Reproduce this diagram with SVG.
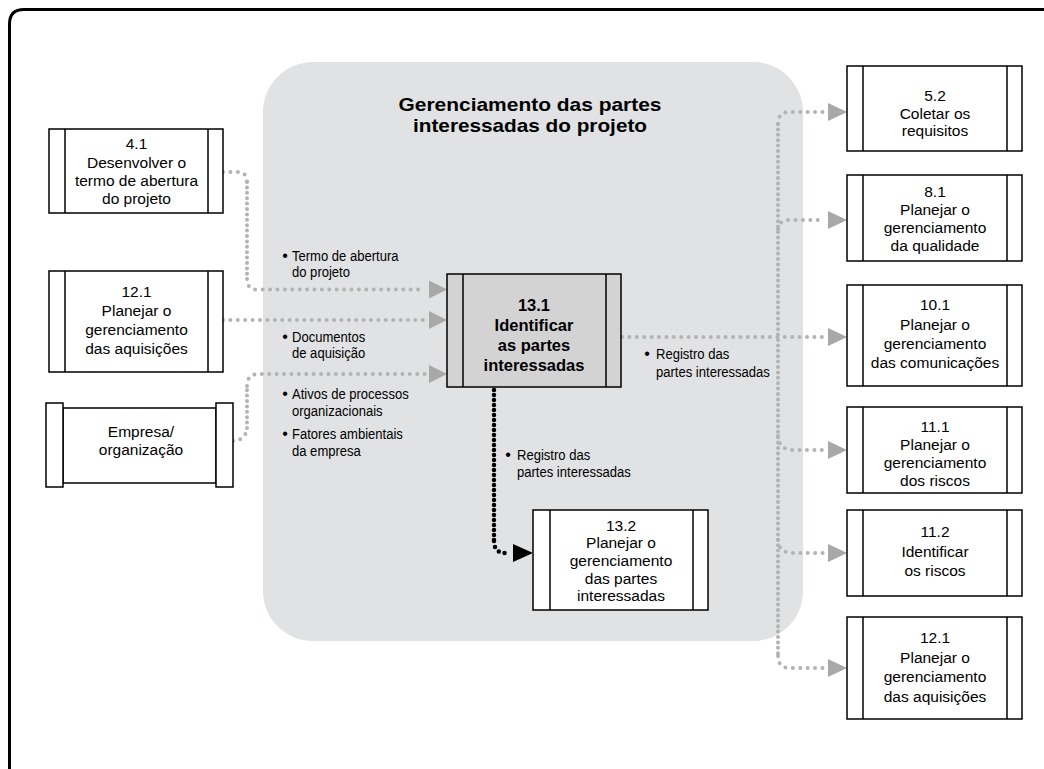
<svg xmlns="http://www.w3.org/2000/svg" width="1044" height="769" viewBox="0 0 1044 769">
<style>
.box{fill:#fff;stroke:#000;stroke-width:1.5}
.bar{stroke:#000;stroke-width:1.5}
.t{font-family:"Liberation Sans",Arial,sans-serif;font-size:15.5px;fill:#000;text-anchor:middle}
.tb{font-family:"Liberation Sans",Arial,sans-serif;font-size:16.5px;font-weight:bold;fill:#000;text-anchor:middle}
.title{font-family:"Liberation Sans",Arial,sans-serif;font-size:19px;font-weight:bold;fill:#000;text-anchor:middle}
.lbl{font-family:"Liberation Sans",Arial,sans-serif;font-size:14.5px;fill:#000}
.bul{font-family:"Liberation Sans",Arial,sans-serif;font-size:16px;fill:#000;text-anchor:middle}
.dh{fill:none;stroke:#b3b3b3;stroke-width:4;stroke-linecap:round;stroke-dasharray:0 7.4}
.dv{fill:none;stroke:#b3b3b3;stroke-width:4;stroke-linecap:round;stroke-dasharray:0 5.4}
.kh{fill:none;stroke:#000;stroke-width:4.5;stroke-linecap:round;stroke-dasharray:0 6}
.kv{fill:none;stroke:#000;stroke-width:4.5;stroke-linecap:round;stroke-dasharray:0 5}
.ga{fill:#a8a8a8}
</style>
<rect width="1044" height="769" fill="#fff"/>
<g id="frame">
<path d="M9.5,769 V24 Q9.5,9.5 24,9.5 H1044" fill="none" stroke="#000" stroke-width="3"/>
</g>
<g id="group-area">
<rect x="263" y="62" width="540" height="579" rx="50" ry="50" fill="#e1e2e3"/>
<text class="title" x="530" y="111" textLength="263" lengthAdjust="spacingAndGlyphs">Gerenciamento das partes</text>
<text class="title" x="530" y="132" textLength="234" lengthAdjust="spacingAndGlyphs">interessadas do projeto</text>
</g>
<g id="connectors">
<path class="dh" d="M223,172 H237 Q247,172 247,182"/>
<path class="dv" d="M247,182 V279"/>
<path class="dh" d="M247,279 Q247,289.5 257,289.5 H425"/>
<polygon class="ga" points="429,280.5 447,289.5 429,298.5"/>
<path class="dh" d="M223,320 H425"/>
<polygon class="ga" points="429,311 447,320 429,329"/>
<path class="dh" d="M233,441 Q246,440 247,428"/>
<path class="dv" d="M247,428 V386"/>
<path class="dh" d="M247,386 Q247,374 259,374 H425"/>
<polygon class="ga" points="429,365 447,374 429,383"/>
<path class="dh" d="M622,337 H825"/>
<path class="dv" d="M778,124 V656"/>
<path class="dh" d="M778,124 Q778,112 790,112 H825"/>
<path class="dh" d="M778,229 Q779,220 790,220 H825"/>
<path class="dh" d="M778,436 Q779,450 793,450 H825"/>
<path class="dh" d="M778,540 Q779,553 793,553 H825"/>
<path class="dh" d="M778,656 Q778,668 790,668 H825"/>
<polygon class="ga" points="828,103 847,112 828,121"/>
<polygon class="ga" points="828,211 847,220 828,229"/>
<polygon class="ga" points="828,328 847,337 828,346"/>
<polygon class="ga" points="828,441 847,450 828,459"/>
<polygon class="ga" points="828,544 847,553 828,562"/>
<polygon class="ga" points="828,659 847,668 828,677"/>
<path class="kv" d="M494,390 V541"/>
<path class="kh" d="M494,541 Q494,553 506,553 H510"/>
<polygon fill="#000" points="513,544 533,553 513,562"/>
</g>
<g id="labels">
<text class="bul" x="285" y="261">•</text>
<text class="lbl" transform="translate(292,261) scale(0.9,1)">Termo de abertura<tspan x="0" dy="16">do projeto</tspan></text>
<text class="bul" x="285" y="342">•</text>
<text class="lbl" transform="translate(292,342) scale(0.9,1)">Documentos<tspan x="0" dy="16.5">de aquisição</tspan></text>
<text class="bul" x="285" y="399">•</text>
<text class="lbl" transform="translate(292,399) scale(0.9,1)">Ativos de processos<tspan x="0" dy="17">organizacionais</tspan></text>
<text class="bul" x="285" y="439">•</text>
<text class="lbl" transform="translate(292,439) scale(0.9,1)">Fatores ambientais<tspan x="0" dy="17">da empresa</tspan></text>
<text class="bul" x="647" y="359">•</text>
<text class="lbl" transform="translate(656,359) scale(0.9,1)">Registro das<tspan x="0" dy="18">partes interessadas</tspan></text>
<text class="bul" x="508" y="460">•</text>
<text class="lbl" transform="translate(517,460) scale(0.9,1)">Registro das<tspan x="0" dy="17">partes interessadas</tspan></text>
</g>
<g id="node-4-1">
<rect class="box" x="49" y="129" width="174" height="84"/>
<line class="bar" x1="65" y1="129" x2="65" y2="213"/>
<line class="bar" x1="208" y1="129" x2="208" y2="213"/>
<text class="t" x="136.5" y="149">4.1</text>
<text class="t" x="136.5" y="167.5">Desenvolver o</text>
<text class="t" x="136.5" y="186">termo de abertura</text>
<text class="t" x="136.5" y="204">do projeto</text>
</g>
<g id="node-12-1-left">
<rect class="box" x="49" y="271" width="174" height="101"/>
<line class="bar" x1="65" y1="271" x2="65" y2="372"/>
<line class="bar" x1="208" y1="271" x2="208" y2="372"/>
<text class="t" x="136.5" y="297">12.1</text>
<text class="t" x="136.5" y="316">Planejar o</text>
<text class="t" x="136.5" y="335">gerenciamento</text>
<text class="t" x="136.5" y="354">das aquisições</text>
</g>
<g id="node-empresa">
<rect class="box" x="63" y="408" width="153" height="75"/>
<rect class="box" x="46" y="403" width="17" height="84"/>
<rect class="box" x="216" y="403" width="17" height="84"/>
<text class="t" x="141" y="437">Empresa/</text>
<text class="t" x="141" y="455">organização</text>
</g>
<g id="node-13-1">
<rect x="447" y="274" width="174" height="113" fill="#d3d3d3" stroke="#000" stroke-width="1.5"/>
<line class="bar" x1="463" y1="274" x2="463" y2="387"/>
<line class="bar" x1="606" y1="274" x2="606" y2="387"/>
<text class="tb" x="534" y="311">13.1</text>
<text class="tb" x="534" y="331">Identificar</text>
<text class="tb" x="534" y="351">as partes</text>
<text class="tb" x="534" y="371">interessadas</text>
</g>
<g id="node-13-2">
<rect class="box" x="533" y="510" width="175" height="100"/>
<line class="bar" x1="550" y1="510" x2="550" y2="610"/>
<line class="bar" x1="693" y1="510" x2="693" y2="610"/>
<text class="t" x="621" y="530.5">13.2</text>
<text class="t" x="621" y="548">Planejar o</text>
<text class="t" x="621" y="566">gerenciamento</text>
<text class="t" x="621" y="583.5">das partes</text>
<text class="t" x="621" y="601">interessadas</text>
</g>
<g id="node-5-2">
<rect class="box" x="847" y="66" width="175" height="85"/>
<line class="bar" x1="863" y1="66" x2="863" y2="151"/>
<line class="bar" x1="1007" y1="66" x2="1007" y2="151"/>
<text class="t" x="935" y="101">5.2</text>
<text class="t" x="935" y="118.5">Coletar os</text>
<text class="t" x="935" y="135.5">requisitos</text>
</g>
<g id="node-8-1">
<rect class="box" x="847" y="175" width="175" height="86"/>
<line class="bar" x1="863" y1="175" x2="863" y2="261"/>
<line class="bar" x1="1007" y1="175" x2="1007" y2="261"/>
<text class="t" x="935" y="197">8.1</text>
<text class="t" x="935" y="215">Planejar o</text>
<text class="t" x="935" y="233">gerenciamento</text>
<text class="t" x="935" y="251">da qualidade</text>
</g>
<g id="node-10-1">
<rect class="box" x="847" y="285" width="175" height="101"/>
<line class="bar" x1="863" y1="285" x2="863" y2="386"/>
<line class="bar" x1="1007" y1="285" x2="1007" y2="386"/>
<text class="t" x="935" y="310">10.1</text>
<text class="t" x="935" y="329.5">Planejar o</text>
<text class="t" x="935" y="349">gerenciamento</text>
<text class="t" x="935" y="368">das comunicações</text>
</g>
<g id="node-11-1">
<rect class="box" x="847" y="407" width="175" height="86"/>
<line class="bar" x1="863" y1="407" x2="863" y2="493"/>
<line class="bar" x1="1007" y1="407" x2="1007" y2="493"/>
<text class="t" x="935" y="431.5">11.1</text>
<text class="t" x="935" y="450">Planejar o</text>
<text class="t" x="935" y="468">gerenciamento</text>
<text class="t" x="935" y="486">dos riscos</text>
</g>
<g id="node-11-2">
<rect class="box" x="847" y="510" width="175" height="86"/>
<line class="bar" x1="863" y1="510" x2="863" y2="596"/>
<line class="bar" x1="1007" y1="510" x2="1007" y2="596"/>
<text class="t" x="935" y="537">11.2</text>
<text class="t" x="935" y="556.5">Identificar</text>
<text class="t" x="935" y="576">os riscos</text>
</g>
<g id="node-12-1-right">
<rect class="box" x="847" y="617" width="175" height="102"/>
<line class="bar" x1="863" y1="617" x2="863" y2="719"/>
<line class="bar" x1="1007" y1="617" x2="1007" y2="719"/>
<text class="t" x="935" y="643">12.1</text>
<text class="t" x="935" y="662.5">Planejar o</text>
<text class="t" x="935" y="682">gerenciamento</text>
<text class="t" x="935" y="701.5">das aquisições</text>
</g>
</svg>
